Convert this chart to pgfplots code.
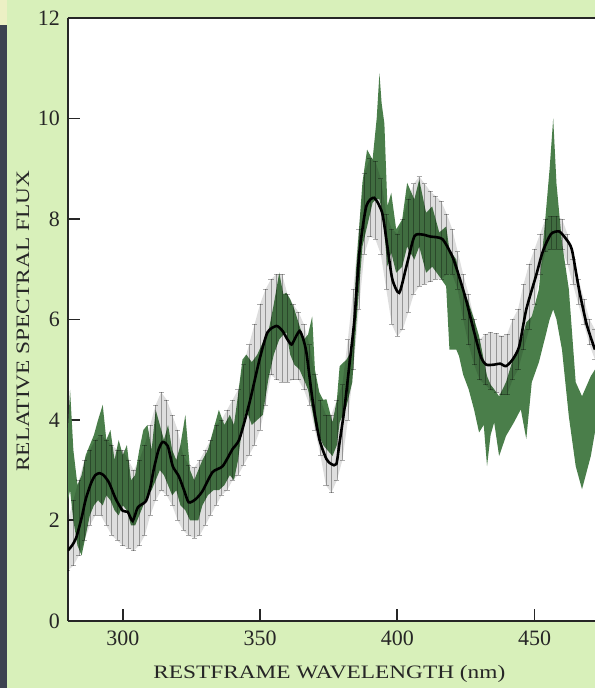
\documentclass[border=0pt]{standalone}
\usepackage{pgfplots}
\pgfplotsset{compat=1.18}
\usepackage{pgfplotstable}
\usepackage{fontspec}
\setmainfont{Liberation Serif}
\definecolor{paper}{RGB}{216,240,186}
\definecolor{strip}{RGB}{60,66,80}
\definecolor{corner}{RGB}{236,240,196}
\definecolor{specgreen}{RGB}{74,126,74}
\definecolor{bandgray}{RGB}{222,222,222}
\definecolor{bargray}{RGB}{172,172,172}

% smoothed spectrum (black line)
\pgfplotstableread{
x y
280.0 1.40
281.5 1.50
283.0 1.65
285.0 2.05
286.5 2.42
288.5 2.75
290.0 2.90
291.5 2.94
293.0 2.90
295.0 2.75
297.5 2.42
300.0 2.19
301.8 2.17
303.6 1.99
305.5 2.26
308.4 2.38
310.0 2.65
311.3 3.02
313.0 3.40
314.5 3.56
316.4 3.48
318.2 3.08
320.4 2.88
322.2 2.62
324.0 2.36
326.5 2.42
329.0 2.58
332.7 2.96
336.4 3.08
340.0 3.42
342.5 3.62
346.2 4.35
349.8 5.20
352.7 5.74
356.0 5.87
358.2 5.77
360.0 5.60
361.5 5.50
363.0 5.65
364.4 5.77
365.5 5.65
366.9 5.34
369.1 4.41
371.6 3.62
374.2 3.22
376.0 3.12
377.8 3.12
379.0 3.56
380.7 4.20
382.5 5.07
384.4 6.00
386.2 7.33
388.7 8.25
391.6 8.42
394.5 8.12
396.4 7.45
398.2 6.80
400.7 6.53
403.3 7.05
406.2 7.65
409.0 7.69
412.0 7.65
416.4 7.60
420.0 7.26
422.5 6.86
425.0 6.40
428.0 5.75
430.5 5.25
432.4 5.10
435.3 5.10
437.5 5.12
439.6 5.07
442.0 5.20
444.4 5.46
447.0 6.20
450.5 6.86
453.0 7.35
456.0 7.70
459.0 7.75
461.5 7.60
463.6 7.39
466.2 6.60
469.0 5.90
472.0 5.40
}\smoothtab

% error bars (lower and upper ends)
\pgfplotstableread{
x lo hi
280 1.00 2.00
282 1.10 2.40
284 1.30 2.80
286 1.60 3.20
288 1.90 3.40
290 2.10 3.60
292 2.10 3.70
294 1.90 3.60
296 1.70 3.50
298 1.60 3.40
300 1.50 3.40
302 1.45 3.20
304 1.40 3.00
306 1.50 3.20
308 1.70 3.50
310 2.10 3.90
312 2.40 4.30
314 2.60 4.55
316 2.50 4.40
318 2.30 4.10
320 2.00 3.80
322 1.80 3.30
324 1.70 3.10
326 1.65 3.05
328 1.70 3.20
330 1.90 3.40
332 2.10 3.60
334 2.30 3.90
336 2.50 4.00
338 2.60 4.20
340 2.80 4.40
342 2.90 4.60
344 3.10 5.10
346 3.30 5.50
348 3.50 5.90
350 3.80 6.30
352 4.30 6.60
354 4.90 6.80
356 4.80 6.90
358 4.75 6.90
360 4.75 6.50
362 4.80 6.30
364 4.80 6.15
366 4.60 5.90
368 4.30 5.50
370 3.80 4.90
372 3.30 4.40
374 2.70 4.10
376 2.55 4.10
378 2.80 4.40
380 3.20 4.70
382 4.00 5.60
384 5.00 6.60
386 6.20 7.80
388 7.30 8.90
390 7.65 9.20
392 7.60 9.15
394 7.30 8.80
396 6.60 8.10
398 5.90 7.80
400 5.66 7.70
402 5.80 8.00
404 6.14 8.40
406 6.50 8.70
408 6.66 8.84
410 6.70 8.70
412 6.75 8.55
414 6.80 8.45
416 6.80 8.35
418 6.90 8.10
420 6.90 7.80
422 6.60 7.35
424 6.00 6.90
426 5.50 6.50
428 5.10 6.00
430 4.80 5.60
432 4.70 5.70
434 4.60 5.74
436 4.55 5.72
438 4.50 5.67
440 4.50 5.70
442 4.80 6.00
444 5.00 6.20
446 5.40 6.70
448 5.80 7.10
450 6.30 7.40
452 6.90 7.70
454 7.35 8.00
456 7.40 8.05
458 7.40 8.05
460 7.40 8.00
462 7.10 7.70
464 6.70 7.20
466 6.30 6.80
468 5.90 6.40
470 5.50 6.00
472 5.20 5.80
}\errtab

% outline of the error band: upper ends forward, lower ends back
\pgfplotstableread{
x y
280 2.00
282 2.40
284 2.80
286 3.20
288 3.40
290 3.60
292 3.70
294 3.60
296 3.50
298 3.40
300 3.40
302 3.20
304 3.00
306 3.20
308 3.50
310 3.90
312 4.30
314 4.55
316 4.40
318 4.10
320 3.80
322 3.30
324 3.10
326 3.05
328 3.20
330 3.40
332 3.60
334 3.90
336 4.00
338 4.20
340 4.40
342 4.60
344 5.10
346 5.50
348 5.90
350 6.30
352 6.60
354 6.80
356 6.90
358 6.90
360 6.50
362 6.30
364 6.15
366 5.90
368 5.50
370 4.90
372 4.40
374 4.10
376 4.10
378 4.40
380 4.70
382 5.60
384 6.60
386 7.80
388 8.90
390 9.20
392 9.15
394 8.80
396 8.10
398 7.80
400 7.70
402 8.00
404 8.40
406 8.70
408 8.84
410 8.70
412 8.55
414 8.45
416 8.35
418 8.10
420 7.80
422 7.35
424 6.90
426 6.50
428 6.00
430 5.60
432 5.70
434 5.74
436 5.72
438 5.67
440 5.70
442 6.00
444 6.20
446 6.70
448 7.10
450 7.40
452 7.70
454 8.00
456 8.05
458 8.05
460 8.00
462 7.70
464 7.20
466 6.80
468 6.40
470 6.00
472 5.80
472 5.20
470 5.50
468 5.90
466 6.30
464 6.70
462 7.10
460 7.40
458 7.40
456 7.40
454 7.35
452 6.90
450 6.30
448 5.80
446 5.40
444 5.00
442 4.80
440 4.50
438 4.50
436 4.55
434 4.60
432 4.70
430 4.80
428 5.10
426 5.50
424 6.00
422 6.60
420 6.90
418 6.90
416 6.80
414 6.80
412 6.75
410 6.70
408 6.66
406 6.50
404 6.14
402 5.80
400 5.66
398 5.90
396 6.60
394 7.30
392 7.60
390 7.65
388 7.30
386 6.20
384 5.00
382 4.00
380 3.20
378 2.80
376 2.55
374 2.70
372 3.30
370 3.80
368 4.30
366 4.60
364 4.80
362 4.80
360 4.75
358 4.75
356 4.80
354 4.90
352 4.30
350 3.80
348 3.50
346 3.30
344 3.10
342 2.90
340 2.80
338 2.60
336 2.50
334 2.30
332 2.10
330 1.90
328 1.70
326 1.65
324 1.70
322 1.80
320 2.00
318 2.30
316 2.50
314 2.60
312 2.40
310 2.10
308 1.70
306 1.50
304 1.40
302 1.45
300 1.50
298 1.60
296 1.70
294 1.90
292 2.10
290 2.10
288 1.90
286 1.60
284 1.30
282 1.10
280 1.00
}\errpoly

% outline of the green band (spread of the spectra): upper edge forward, lower edge back
\pgfplotstableread{
x y
280.0 3.80
280.8 4.60
282.0 3.40
283.5 2.70
285.0 2.90
286.5 3.30
288.0 3.50
289.5 3.70
291.0 4.00
292.7 4.30
294.0 3.60
295.5 3.80
297.0 3.20
298.5 3.60
300.0 3.30
301.5 3.50
303.0 2.80
304.5 2.90
306.0 3.40
307.5 3.80
309.0 3.90
310.5 3.40
312.0 4.20
313.5 3.90
315.0 3.60
316.5 3.90
318.0 3.40
319.5 3.20
321.0 3.50
322.8 4.10
324.5 3.00
326.0 2.80
327.5 3.00
329.0 3.20
331.0 3.40
333.0 3.80
335.0 4.20
337.0 3.90
339.0 4.10
340.5 3.90
342.0 4.50
343.6 5.20
345.0 5.30
347.0 5.15
349.0 5.30
351.0 5.54
353.0 5.74
355.0 6.30
357.0 6.93
358.5 6.50
359.6 6.53
361.0 6.40
362.5 6.20
364.4 5.87
366.0 5.60
367.5 5.70
369.0 6.06
370.0 5.00
371.6 4.55
373.0 4.40
374.2 4.41
376.4 3.95
378.0 4.40
379.0 5.07
381.5 5.20
383.6 5.40
385.0 7.00
387.3 8.72
389.0 9.38
391.0 9.18
392.5 10.00
393.5 10.90
394.3 10.30
395.3 9.90
396.4 8.25
397.8 8.52
399.6 7.79
401.8 7.99
403.6 8.72
406.2 8.39
408.0 8.78
410.5 8.12
412.7 8.25
415.3 7.73
417.8 7.85
419.0 7.39
421.5 7.19
422.5 6.86
424.0 6.60
426.0 6.33
428.0 6.00
429.8 5.67
431.5 5.20
432.7 4.87
434.0 4.70
435.3 4.61
437.1 4.47
439.6 4.75
442.5 5.27
445.0 5.54
447.0 5.94
449.0 6.06
451.6 6.60
454.0 8.05
455.5 9.00
456.8 10.00
458.0 8.70
460.0 7.53
462.5 6.60
465.0 4.75
467.3 4.47
470.5 4.87
472.0 5.00
472.0 3.75
470.5 3.28
467.3 2.62
465.0 3.08
462.5 4.07
460.0 5.40
458.0 6.00
456.8 6.20
455.5 6.00
454.0 5.67
451.6 5.15
449.0 4.75
447.0 3.62
445.0 4.21
442.5 3.95
439.6 3.68
437.1 3.28
435.3 3.95
434.0 3.70
432.7 3.08
431.5 3.90
429.8 3.75
428.0 4.20
426.0 4.61
424.0 4.90
422.5 5.27
421.5 5.40
419.0 5.40
417.8 6.66
415.3 6.86
412.7 7.05
410.5 6.93
408.0 7.45
406.2 7.19
403.6 7.45
401.8 7.05
399.6 6.93
397.8 7.33
396.4 7.05
395.3 7.73
394.3 8.20
393.5 8.39
392.5 8.40
391.0 8.32
389.0 7.85
387.3 7.45
385.0 5.87
383.6 4.75
381.5 4.27
379.0 3.95
378.0 3.50
376.4 3.28
374.2 3.42
373.0 3.50
371.6 3.68
370.0 3.90
369.0 4.20
367.5 4.60
366.0 4.80
364.4 5.00
362.5 5.10
361.0 5.30
359.6 5.74
358.5 5.70
357.0 5.60
355.0 5.30
353.0 4.80
351.0 4.10
349.0 4.00
347.0 3.90
345.0 4.20
343.6 3.90
342.0 3.20
340.5 2.80
339.0 2.90
337.0 2.70
335.0 2.60
333.0 2.60
331.0 2.50
329.0 2.30
327.5 2.00
326.0 2.00
324.5 2.00
322.8 2.20
321.0 2.30
319.5 2.60
318.0 2.50
316.5 2.70
315.0 2.90
313.5 3.00
312.0 2.80
310.5 2.60
309.0 2.50
307.5 2.30
306.0 2.10
304.5 1.90
303.0 1.90
301.5 2.20
300.0 2.30
298.5 2.10
297.0 2.20
295.5 2.40
294.0 2.50
292.7 2.30
291.0 2.40
289.5 2.30
288.0 2.10
286.5 1.70
285.0 1.30
283.5 1.50
282.0 2.00
280.8 2.60
280.0 2.40
}\greenpoly

\begin{document}
\begin{tikzpicture}
\fill[paper] (0,0) rectangle (298pt,344.5pt);
\fill[strip] (0,0) rectangle (3.5pt,332pt);
\fill[corner] (0,332pt) rectangle (3.5pt,344.5pt);
\begin{axis}[
  at={(34pt,33.5pt)}, anchor=south west,
  scale only axis, width=264pt, height=302pt,
  xmin=280, xmax=472, ymin=0, ymax=12,
  axis x line*=box, axis y line*=left,
  axis background/.style={fill=white},
  axis line style={line width=1.1pt, black!85},
  xtick={300,350,400,450}, ytick={0,2,4,6,8,10,12},
  xtick pos=bottom, ytick pos=left,
  tick align=inside, major tick length=6pt,
  tick style={line width=0.9pt, black!85},
  minor tick num=0,
  /pgf/number format/assume math mode=true,
  ticklabel style={font=\fontsize{11}{12}\selectfont, text=black!85},
  xticklabel style={yshift=-1.5pt},
  yticklabel style={xshift=-0.5pt},
  xlabel={\scalebox{1.23}[1]{RESTFRAME WAVELENGTH (nm)}},
  ylabel={\scalebox{1.23}[1]{RELATIVE SPECTRAL FLUX}},
  label style={font=\fontsize{9.5}{11}\selectfont, text=black!85},
  xlabel style={at={(axis description cs:0.496,-0.0877)}, anchor=center},
  ylabel style={at={(axis description cs:-0.0852,0.497)}, anchor=center},
  clip=true,
]
% green band
\addplot[draw=none, fill=specgreen, forget plot] table[x=x,y=y]{\greenpoly} -- cycle;
% gray error band
\addplot[draw=none, fill=bandgray, blend mode=multiply, forget plot] table[x=x,y=y]{\errpoly} -- cycle;
\addplot[draw=none, mark=none, forget plot,
  error bars/.cd, y dir=both, y explicit,
  error bar style={draw=bargray, line width=0.3pt, blend mode=multiply},
  error mark options={draw=bargray, line width=0.3pt, mark size=1.3pt, rotate=90}]
  table[x=x, y expr=(\thisrow{lo}+\thisrow{hi})/2, y error expr=(\thisrow{hi}-\thisrow{lo})/2]{\errtab};
% smoothed spectrum
\addplot[black, line width=1.3pt, smooth, tension=0.4, mark=none] table[x=x,y=y]{\smoothtab};
\end{axis}
\end{tikzpicture}
\end{document}
